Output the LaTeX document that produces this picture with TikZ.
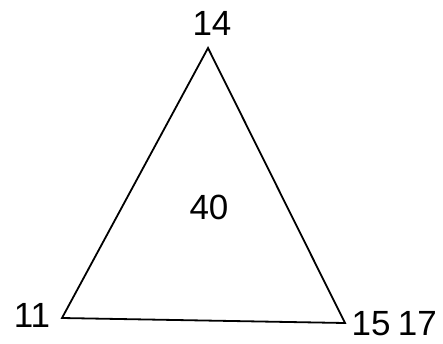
\documentclass[tikz,border=0pt]{standalone}
\usepackage{fontspec}
\setmainfont{Liberation Sans}
\usetikzlibrary{calc}

\tikzset{num/.style={font=\fontsize{35}{40}\selectfont, inner sep=0pt}}

\begin{document}
\begin{tikzpicture}[x=1pt,y=1pt]
\useasboundingbox (0,0) rectangle (443,343);
\coordinate (top) at (208,295);
\coordinate (bl) at (62,25);
\coordinate (br) at (345,20);
\draw[line width=1.8pt, line join=miter] (top) -- (bl) -- (br) -- cycle;
\node[num] (n14) at (212,320) {14};
\node[num] (n11) at (32,28) {11};
\node[num] (n15) at (371,19) {15};
\node[num, anchor=east] (n17) at (437,20) {17};
\node[num] (n40) at (209,136) {40};
\end{tikzpicture}
\end{document}
